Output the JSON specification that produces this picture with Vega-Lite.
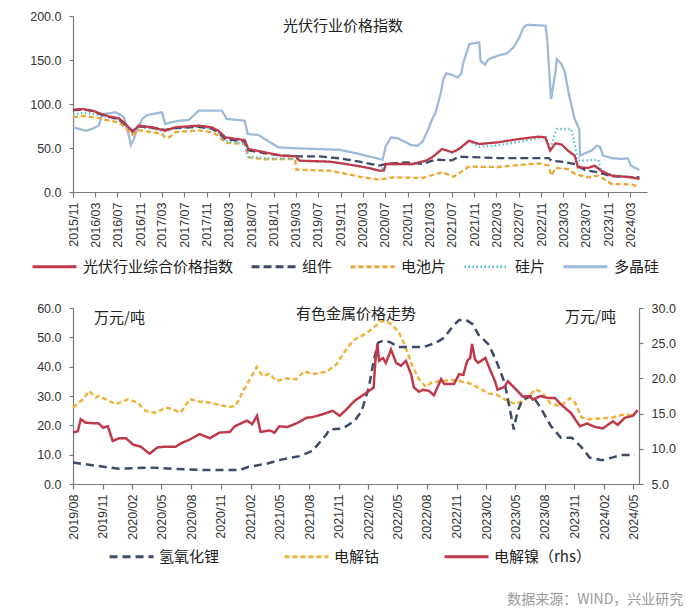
{
  "$schema": "https://vega.github.io/schema/vega-lite/v6.json",
  "padding": {"top": 10, "left": 29, "right": 5, "bottom": 3},
  "title": {"text": "数据来源：WIND，兴业研究", "orient": "bottom", "anchor": "end", "fontSize": 14, "color": "#9a9a9a", "font": "Noto Sans CJK SC", "fontWeight": "normal", "offset": 28, "dx": 8},
  "spacing": 27,
  "datasets": {
    "pv": [
      {"d":"2015-11-01","s":"多晶硅","v":73.5},{"d":"2015-12-15","s":"多晶硅","v":71},{"d":"2016-01-10","s":"多晶硅","v":69.5},{"d":"2016-02-15","s":"多晶硅","v":72},{"d":"2016-03-20","s":"多晶硅","v":75.4},{"d":"2016-04-10","s":"多晶硅","v":88.6},{"d":"2016-06-20","s":"多晶硅","v":90.5},{"d":"2016-07-15","s":"多晶硅","v":88},{"d":"2016-08-05","s":"多晶硅","v":84.9},{"d":"2016-09-01","s":"多晶硅","v":64},{"d":"2016-09-12","s":"多晶硅","v":53.4},{"d":"2016-09-28","s":"多晶硅","v":60},{"d":"2016-10-17","s":"多晶硅","v":71.6},{"d":"2016-11-14","s":"多晶硅","v":83},{"d":"2016-12-10","s":"多晶硅","v":87.5},{"d":"2017-03-01","s":"多晶硅","v":90.5},{"d":"2017-03-18","s":"多晶硅","v":77.3},{"d":"2017-04-24","s":"多晶硅","v":79.2},{"d":"2017-06-01","s":"多晶硅","v":81},{"d":"2017-07-24","s":"多晶硅","v":81.8},{"d":"2017-08-20","s":"多晶硅","v":86.7},{"d":"2017-09-17","s":"多晶硅","v":92.4},{"d":"2018-01-22","s":"多晶硅","v":92.4},{"d":"2018-02-18","s":"多晶硅","v":83},{"d":"2018-04-21","s":"多晶硅","v":81.8},{"d":"2018-05-27","s":"多晶硅","v":81},{"d":"2018-06-12","s":"多晶硅","v":65.9},{"d":"2018-08-09","s":"多晶硅","v":64.8},{"d":"2018-09-15","s":"多晶硅","v":60},{"d":"2018-11-25","s":"多晶硅","v":50.8},{"d":"2019-02-25","s":"多晶硅","v":49.7},{"d":"2019-10-27","s":"多晶硅","v":48},{"d":"2020-02-12","s":"多晶硅","v":43.2},{"d":"2020-04-25","s":"多晶硅","v":39.4},{"d":"2020-06-18","s":"多晶硅","v":36.7},{"d":"2020-07-06","s":"多晶硅","v":52.6},{"d":"2020-08-03","s":"多晶硅","v":62},{"d":"2020-09-09","s":"多晶硅","v":61},{"d":"2020-10-06","s":"多晶硅","v":58.3},{"d":"2020-11-20","s":"多晶硅","v":53.4},{"d":"2020-12-25","s":"多晶硅","v":52.6},{"d":"2021-01-22","s":"多晶硅","v":57.2},{"d":"2021-02-19","s":"多晶硅","v":69.7},{"d":"2021-03-16","s":"多晶硅","v":83},{"d":"2021-04-04","s":"多晶硅","v":90.5},{"d":"2021-05-01","s":"多晶硅","v":112},{"d":"2021-05-15","s":"多晶硅","v":128},{"d":"2021-06-01","s":"多晶硅","v":134.9},{"d":"2021-07-01","s":"多晶硅","v":133.3},{"d":"2021-08-01","s":"多晶硅","v":130.3},{"d":"2021-08-20","s":"多晶硅","v":134},{"d":"2021-09-05","s":"多晶硅","v":149.2},{"d":"2021-10-05","s":"多晶硅","v":168.2},{"d":"2021-11-28","s":"多晶硅","v":170},{"d":"2021-12-05","s":"多晶硅","v":149.2},{"d":"2021-12-28","s":"多晶硅","v":144.7},{"d":"2022-01-18","s":"多晶硅","v":151},{"d":"2022-03-12","s":"多晶硅","v":155},{"d":"2022-04-28","s":"多晶硅","v":157.6},{"d":"2022-06-03","s":"多晶硅","v":164.4},{"d":"2022-07-01","s":"多晶硅","v":173.9},{"d":"2022-07-28","s":"多晶硅","v":187.2},{"d":"2022-08-15","s":"多晶硅","v":190},{"d":"2022-11-25","s":"多晶硅","v":189},{"d":"2022-12-03","s":"多晶硅","v":175.8},{"d":"2022-12-25","s":"多晶硅","v":105.7},{"d":"2023-01-18","s":"多晶硅","v":136},{"d":"2023-01-25","s":"多晶硅","v":151},{"d":"2023-02-20","s":"多晶硅","v":145.5},{"d":"2023-03-10","s":"多晶硅","v":136},{"d":"2023-04-05","s":"多晶硅","v":107.6},{"d":"2023-05-03","s":"多晶硅","v":83},{"d":"2023-05-28","s":"多晶硅","v":71.6},{"d":"2023-06-01","s":"多晶硅","v":41.3},{"d":"2023-06-28","s":"多晶硅","v":44},{"d":"2023-08-03","s":"多晶硅","v":47},{"d":"2023-09-01","s":"多晶硅","v":52.6},{"d":"2023-09-18","s":"多晶硅","v":51.5},{"d":"2023-10-05","s":"多晶硅","v":41.3},{"d":"2023-11-20","s":"多晶硅","v":38.6},{"d":"2024-01-12","s":"多晶硅","v":37.5},{"d":"2024-02-18","s":"多晶硅","v":38.3},{"d":"2024-03-05","s":"多晶硅","v":29.9},{"d":"2024-04-20","s":"多晶硅","v":25},

      {"d":"2015-11-01","s":"电池片","v":85},{"d":"2016-01-05","s":"电池片","v":86.5},{"d":"2016-02-15","s":"电池片","v":85},{"d":"2016-03-21","s":"电池片","v":84},{"d":"2016-05-15","s":"电池片","v":81},{"d":"2016-07-09","s":"电池片","v":79},{"d":"2016-08-15","s":"电池片","v":73},{"d":"2016-09-21","s":"电池片","v":65},{"d":"2016-10-25","s":"电池片","v":70},{"d":"2017-01-07","s":"电池片","v":68},{"d":"2017-03-01","s":"电池片","v":66},{"d":"2017-03-18","s":"电池片","v":62},{"d":"2017-04-10","s":"电池片","v":62},{"d":"2017-05-12","s":"电池片","v":68},{"d":"2017-09-18","s":"电池片","v":70},{"d":"2017-11-28","s":"电池片","v":68},{"d":"2018-01-03","s":"电池片","v":64},{"d":"2018-02-10","s":"电池片","v":56},{"d":"2018-05-27","s":"电池片","v":54.5},{"d":"2018-06-15","s":"电池片","v":39.4},{"d":"2018-09-15","s":"电池片","v":37},{"d":"2018-12-12","s":"电池片","v":37.5},{"d":"2019-02-25","s":"电池片","v":37.5},{"d":"2019-03-05","s":"电池片","v":25.4},{"d":"2019-09-03","s":"电池片","v":24.2},{"d":"2019-12-02","s":"电池片","v":20.5},{"d":"2020-03-01","s":"电池片","v":16.7},{"d":"2020-06-01","s":"电池片","v":14},{"d":"2020-08-10","s":"电池片","v":16.7},{"d":"2021-01-20","s":"电池片","v":15.9},{"d":"2021-05-08","s":"电池片","v":22.4},{"d":"2021-07-12","s":"电池片","v":17.4},{"d":"2021-10-03","s":"电池片","v":28.8},{"d":"2022-03-12","s":"电池片","v":28.4},{"d":"2022-10-18","s":"电池片","v":32.6},{"d":"2022-12-12","s":"电池片","v":30},{"d":"2022-12-25","s":"电池片","v":18.6},{"d":"2023-01-20","s":"电池片","v":27.3},{"d":"2023-03-27","s":"电池片","v":26},{"d":"2023-05-03","s":"电池片","v":20.5},{"d":"2023-07-15","s":"电池片","v":16.7},{"d":"2023-09-09","s":"电池片","v":18.6},{"d":"2023-11-21","s":"电池片","v":9.1},{"d":"2024-03-06","s":"电池片","v":8.7},{"d":"2024-04-21","s":"电池片","v":6},

      {"d":"2015-11-01","s":"硅片","v":88},{"d":"2016-01-05","s":"硅片","v":90},{"d":"2016-02-15","s":"硅片","v":89},{"d":"2016-03-21","s":"硅片","v":87},{"d":"2016-05-15","s":"硅片","v":85},{"d":"2016-07-09","s":"硅片","v":82},{"d":"2016-08-15","s":"硅片","v":75},{"d":"2016-09-21","s":"硅片","v":67},{"d":"2016-10-25","s":"硅片","v":74},{"d":"2017-01-07","s":"硅片","v":72},{"d":"2017-03-18","s":"硅片","v":69},{"d":"2017-05-12","s":"硅片","v":72.5},{"d":"2017-09-18","s":"硅片","v":74},{"d":"2017-11-28","s":"硅片","v":72},{"d":"2018-01-03","s":"硅片","v":67},{"d":"2018-02-10","s":"硅片","v":58},{"d":"2018-05-27","s":"硅片","v":55},{"d":"2018-06-15","s":"硅片","v":40},{"d":"2018-09-15","s":"硅片","v":38.5},{"d":"2018-12-12","s":"硅片","v":38},{"d":"2019-02-25","s":"硅片","v":37.5},{"d":"2019-03-21","s":"硅片","v":35.3},{"d":"2019-09-03","s":"硅片","v":34.2},{"d":"2019-12-02","s":"硅片","v":31.5},{"d":"2020-03-18","s":"硅片","v":27.7},{"d":"2020-06-01","s":"硅片","v":24},{"d":"2020-07-06","s":"硅片","v":31.5},{"d":"2020-11-28","s":"硅片","v":31.5},{"d":"2021-02-10","s":"硅片","v":35.3},{"d":"2021-03-15","s":"硅片","v":39},{"d":"2021-05-09","s":"硅片","v":48.5},{"d":"2021-07-03","s":"硅片","v":44.8},{"d":"2021-08-09","s":"硅片","v":48.5},{"d":"2021-10-03","s":"硅片","v":57},{"d":"2021-11-27","s":"硅片","v":51.5},{"d":"2022-03-12","s":"硅片","v":53},{"d":"2022-07-01","s":"硅片","v":57},{"d":"2022-10-18","s":"硅片","v":61},{"d":"2022-11-24","s":"硅片","v":64},{"d":"2022-12-20","s":"硅片","v":48},{"d":"2023-01-12","s":"硅片","v":64},{"d":"2023-01-25","s":"硅片","v":71.6},{"d":"2023-04-15","s":"硅片","v":71.6},{"d":"2023-05-21","s":"硅片","v":35.6},{"d":"2023-09-09","s":"硅片","v":36.6},{"d":"2023-09-24","s":"硅片","v":24.5},{"d":"2023-11-21","s":"硅片","v":19},{"d":"2024-03-06","s":"硅片","v":17},{"d":"2024-04-21","s":"硅片","v":15},

      {"d":"2015-11-01","s":"组件","v":93},{"d":"2016-01-05","s":"组件","v":93.5},{"d":"2016-02-15","s":"组件","v":92},{"d":"2016-03-21","s":"组件","v":89},{"d":"2016-05-15","s":"组件","v":85.5},{"d":"2016-07-09","s":"组件","v":82.5},{"d":"2016-08-15","s":"组件","v":76},{"d":"2016-09-21","s":"组件","v":69.5},{"d":"2016-10-25","s":"组件","v":74.5},{"d":"2017-01-07","s":"组件","v":73},{"d":"2017-03-18","s":"组件","v":70.5},{"d":"2017-05-12","s":"组件","v":72.5},{"d":"2017-09-18","s":"组件","v":74},{"d":"2017-11-28","s":"组件","v":72},{"d":"2018-01-03","s":"组件","v":68},{"d":"2018-02-10","s":"组件","v":60},{"d":"2018-05-27","s":"组件","v":57.5},{"d":"2018-06-15","s":"组件","v":47.5},{"d":"2018-09-15","s":"组件","v":44},{"d":"2018-12-12","s":"组件","v":41.5},{"d":"2019-03-21","s":"组件","v":40.5},{"d":"2019-06-30","s":"组件","v":40.5},{"d":"2019-10-27","s":"组件","v":38.3},{"d":"2020-02-12","s":"组件","v":34.5},{"d":"2020-06-01","s":"组件","v":29.9},{"d":"2020-07-06","s":"组件","v":32},{"d":"2020-10-24","s":"组件","v":33.7},{"d":"2021-01-22","s":"组件","v":32},{"d":"2021-04-04","s":"组件","v":36.7},{"d":"2021-07-01","s":"组件","v":36},{"d":"2021-08-09","s":"组件","v":40.1},{"d":"2022-03-12","s":"组件","v":38.6},{"d":"2022-12-12","s":"组件","v":38.6},{"d":"2022-12-27","s":"组件","v":35.6},{"d":"2023-03-10","s":"组件","v":34},{"d":"2023-05-03","s":"组件","v":31.8},{"d":"2023-06-27","s":"组件","v":25},{"d":"2023-09-09","s":"组件","v":22.4},{"d":"2023-11-21","s":"组件","v":17.8},{"d":"2024-04-21","s":"组件","v":16.7},

      {"d":"2015-11-01","s":"光伏行业综合价格指数","v":93.5},{"d":"2015-12-21","s":"光伏行业综合价格指数","v":94.3},{"d":"2016-02-15","s":"光伏行业综合价格指数","v":92.4},{"d":"2016-03-21","s":"光伏行业综合价格指数","v":89.8},{"d":"2016-05-15","s":"光伏行业综合价格指数","v":86},{"d":"2016-07-09","s":"光伏行业综合价格指数","v":83.7},{"d":"2016-08-15","s":"光伏行业综合价格指数","v":77.3},{"d":"2016-09-21","s":"光伏行业综合价格指数","v":68.5},{"d":"2016-10-25","s":"光伏行业综合价格指数","v":75.4},{"d":"2017-01-07","s":"光伏行业综合价格指数","v":73.5},{"d":"2017-03-18","s":"光伏行业综合价格指数","v":69.7},{"d":"2017-05-12","s":"光伏行业综合价格指数","v":73.5},{"d":"2017-09-18","s":"光伏行业综合价格指数","v":75.4},{"d":"2017-11-28","s":"光伏行业综合价格指数","v":73.5},{"d":"2018-01-03","s":"光伏行业综合价格指数","v":69.7},{"d":"2018-02-10","s":"光伏行业综合价格指数","v":62.1},{"d":"2018-05-27","s":"光伏行业综合价格指数","v":59},{"d":"2018-06-15","s":"光伏行业综合价格指数","v":48.9},{"d":"2018-09-15","s":"光伏行业综合价格指数","v":45.1},{"d":"2018-12-12","s":"光伏行业综合价格指数","v":41.3},{"d":"2019-03-03","s":"光伏行业综合价格指数","v":40.5},{"d":"2019-03-21","s":"光伏行业综合价格指数","v":35.6},{"d":"2019-09-03","s":"光伏行业综合价格指数","v":34.5},{"d":"2019-12-02","s":"光伏行业综合价格指数","v":31.8},{"d":"2020-03-18","s":"光伏行业综合价格指数","v":28},{"d":"2020-06-01","s":"光伏行业综合价格指数","v":24.2},{"d":"2020-06-25","s":"光伏行业综合价格指数","v":24.5},{"d":"2020-07-06","s":"光伏行业综合价格指数","v":31.8},{"d":"2020-11-28","s":"光伏行业综合价格指数","v":31.8},{"d":"2021-02-10","s":"光伏行业综合价格指数","v":35.6},{"d":"2021-03-15","s":"光伏行业综合价格指数","v":39.4},{"d":"2021-05-09","s":"光伏行业综合价格指数","v":48.9},{"d":"2021-07-03","s":"光伏行业综合价格指数","v":45.1},{"d":"2021-08-09","s":"光伏行业综合价格指数","v":48.9},{"d":"2021-10-03","s":"光伏行业综合价格指数","v":58.3},{"d":"2021-11-27","s":"光伏行业综合价格指数","v":54.5},{"d":"2022-03-12","s":"光伏行业综合价格指数","v":56.5},{"d":"2022-07-01","s":"光伏行业综合价格指数","v":60.2},{"d":"2022-10-18","s":"光伏行业综合价格指数","v":62.9},{"d":"2022-11-24","s":"光伏行业综合价格指数","v":62},{"d":"2022-12-20","s":"光伏行业综合价格指数","v":47},{"d":"2023-01-18","s":"光伏行业综合价格指数","v":55.3},{"d":"2023-02-21","s":"光伏行业综合价格指数","v":54},{"d":"2023-03-27","s":"光伏行业综合价格指数","v":47},{"d":"2023-05-03","s":"光伏行业综合价格指数","v":41.3},{"d":"2023-05-21","s":"光伏行业综合价格指数","v":28},{"d":"2023-07-15","s":"光伏行业综合价格指数","v":27.3},{"d":"2023-08-21","s":"光伏行业综合价格指数","v":29.9},{"d":"2023-09-24","s":"光伏行业综合价格指数","v":24.2},{"d":"2023-11-21","s":"光伏行业综合价格指数","v":18.6},{"d":"2024-03-06","s":"光伏行业综合价格指数","v":16.7},{"d":"2024-04-21","s":"光伏行业综合价格指数","v":14.8}
    ],
    "metal": [
      {"d":"2019-08-01","s":"电解钴","v":26},{"d":"2019-09-01","s":"电解钴","v":28.9},{"d":"2019-09-20","s":"电解钴","v":31.7},{"d":"2019-10-11","s":"电解钴","v":29.4},{"d":"2019-10-20","s":"电解钴","v":30},{"d":"2019-12-12","s":"电解钴","v":27.2},{"d":"2020-01-18","s":"电解钴","v":28.9},{"d":"2020-02-18","s":"电解钴","v":27.7},{"d":"2020-03-13","s":"电解钴","v":24.9},{"d":"2020-04-13","s":"电解钴","v":24.3},{"d":"2020-05-14","s":"电解钴","v":26},{"d":"2020-06-05","s":"电解钴","v":25.5},{"d":"2020-06-29","s":"电解钴","v":24.3},{"d":"2020-07-27","s":"电解钴","v":28.9},{"d":"2020-08-27","s":"电解钴","v":28.1},{"d":"2020-09-28","s":"电解钴","v":27.7},{"d":"2020-10-28","s":"电解钴","v":26.9},{"d":"2020-11-29","s":"电解钴","v":26.3},{"d":"2020-12-17","s":"电解钴","v":26.6},{"d":"2021-01-09","s":"电解钴","v":31.7},{"d":"2021-01-30","s":"电解钴","v":35.7},{"d":"2021-02-20","s":"电解钴","v":39.9},{"d":"2021-03-10","s":"电解钴","v":36.8},{"d":"2021-04-01","s":"电解钴","v":37.6},{"d":"2021-04-22","s":"电解钴","v":35.1},{"d":"2021-05-23","s":"电解钴","v":36},{"d":"2021-06-23","s":"电解钴","v":35.7},{"d":"2021-07-17","s":"电解钴","v":38.5},{"d":"2021-08-12","s":"电解钴","v":37.4},{"d":"2021-09-24","s":"电解钴","v":38.3},{"d":"2021-10-25","s":"电解钴","v":40.8},{"d":"2021-11-10","s":"电解钴","v":43.6},{"d":"2021-11-28","s":"电解钴","v":46.5},{"d":"2021-12-20","s":"电解钴","v":49.3},{"d":"2022-01-20","s":"电解钴","v":51},{"d":"2022-02-17","s":"电解钴","v":53.3},{"d":"2022-03-12","s":"电解钴","v":55.6},{"d":"2022-04-06","s":"电解钴","v":55},{"d":"2022-05-04","s":"电解钴","v":52.2},{"d":"2022-05-19","s":"电解钴","v":48.8},{"d":"2022-06-04","s":"电解钴","v":44.2},{"d":"2022-06-19","s":"电解钴","v":39.7},{"d":"2022-07-08","s":"电解钴","v":35.7},{"d":"2022-07-29","s":"电解钴","v":33.1},{"d":"2022-08-14","s":"电解钴","v":34.5},{"d":"2022-09-14","s":"电解钴","v":35.1},{"d":"2022-10-24","s":"电解钴","v":35.4},{"d":"2022-12-07","s":"电解钴","v":34.5},{"d":"2023-01-17","s":"电解钴","v":32.3},{"d":"2023-02-08","s":"电解钴","v":30.8},{"d":"2023-03-02","s":"电解钴","v":30.6},{"d":"2023-04-09","s":"电解钴","v":28.3},{"d":"2023-05-03","s":"电解钴","v":27.2},{"d":"2023-06-03","s":"电解钴","v":28.9},{"d":"2023-07-04","s":"电解钴","v":32.3},{"d":"2023-07-25","s":"电解钴","v":31.1},{"d":"2023-08-20","s":"电解钴","v":27.2},{"d":"2023-09-20","s":"电解钴","v":26.6},{"d":"2023-10-18","s":"电解钴","v":29.2},{"d":"2023-11-03","s":"电解钴","v":27.7},{"d":"2023-11-24","s":"电解钴","v":22.6},{"d":"2023-12-13","s":"电解钴","v":22.1},{"d":"2024-02-25","s":"电解钴","v":22.6},{"d":"2024-04-05","s":"电解钴","v":23.8},{"d":"2024-05-06","s":"电解钴","v":23.2},

      {"d":"2019-08-01","s":"氢氧化锂","v":7.3},{"d":"2019-10-20","s":"氢氧化锂","v":6.1},{"d":"2019-12-21","s":"氢氧化锂","v":5.2},{"d":"2020-03-25","s":"氢氧化锂","v":5.6},{"d":"2020-06-05","s":"氢氧化锂","v":5.2},{"d":"2020-08-27","s":"氢氧化锂","v":4.8},{"d":"2020-12-30","s":"氢氧化锂","v":4.8},{"d":"2021-01-24","s":"氢氧化锂","v":5.8},{"d":"2021-03-22","s":"氢氧化锂","v":6.9},{"d":"2021-05-10","s":"氢氧化锂","v":8.4},{"d":"2021-07-02","s":"氢氧化锂","v":9.5},{"d":"2021-08-12","s":"氢氧化锂","v":11.3},{"d":"2021-09-24","s":"氢氧化锂","v":16.9},{"d":"2021-10-03","s":"氢氧化锂","v":18.6},{"d":"2021-11-13","s":"氢氧化锂","v":18.9},{"d":"2021-12-20","s":"氢氧化锂","v":21.5},{"d":"2022-01-11","s":"氢氧化锂","v":24.9},{"d":"2022-02-02","s":"氢氧化锂","v":32.8},{"d":"2022-02-17","s":"氢氧化锂","v":41.9},{"d":"2022-03-03","s":"氢氧化锂","v":48.2},{"d":"2022-03-21","s":"氢氧化锂","v":49},{"d":"2022-04-12","s":"氢氧化锂","v":48.2},{"d":"2022-05-04","s":"氢氧化锂","v":46.7},{"d":"2022-07-23","s":"氢氧化锂","v":46.7},{"d":"2022-08-30","s":"氢氧化锂","v":48.2},{"d":"2022-09-24","s":"氢氧化锂","v":49.9},{"d":"2022-10-21","s":"氢氧化锂","v":53.9},{"d":"2022-11-09","s":"氢氧化锂","v":55.9},{"d":"2022-12-01","s":"氢氧化锂","v":55.9},{"d":"2022-12-22","s":"氢氧化锂","v":54.4},{"d":"2023-01-07","s":"氢氧化锂","v":51},{"d":"2023-02-08","s":"氢氧化锂","v":47.6},{"d":"2023-03-02","s":"氢氧化锂","v":42.5},{"d":"2023-03-30","s":"氢氧化锂","v":34.5},{"d":"2023-04-18","s":"氢氧化锂","v":23.8},{"d":"2023-04-27","s":"氢氧化锂","v":18.6},{"d":"2023-05-09","s":"氢氧化锂","v":24.9},{"d":"2023-05-25","s":"氢氧化锂","v":28.9},{"d":"2023-06-25","s":"氢氧化锂","v":30},{"d":"2023-07-19","s":"氢氧化锂","v":26},{"d":"2023-08-20","s":"氢氧化锂","v":19.8},{"d":"2023-09-20","s":"氢氧化锂","v":15.8},{"d":"2023-10-24","s":"氢氧化锂","v":15.8},{"d":"2023-11-24","s":"氢氧化锂","v":12.4},{"d":"2023-12-18","s":"氢氧化锂","v":9},{"d":"2024-01-25","s":"氢氧化锂","v":8.1},{"d":"2024-02-25","s":"氢氧化锂","v":9},{"d":"2024-03-26","s":"氢氧化锂","v":9.9},{"d":"2024-05-06","s":"氢氧化锂","v":9.9},

      {"d":"2019-08-01","s":"电解镍（rhs）","v":12.3},{"d":"2019-08-16","s":"电解镍（rhs）","v":12.5},{"d":"2019-08-25","s":"电解镍（rhs）","v":14.2},{"d":"2019-09-10","s":"电解镍（rhs）","v":13.7},{"d":"2019-10-20","s":"电解镍（rhs）","v":13.6},{"d":"2019-11-02","s":"电解镍（rhs）","v":13},{"d":"2019-11-17","s":"电解镍（rhs）","v":13.2},{"d":"2019-12-02","s":"电解镍（rhs）","v":11.1},{"d":"2019-12-21","s":"电解镍（rhs）","v":11.5},{"d":"2020-01-12","s":"电解镍（rhs）","v":11.5},{"d":"2020-02-03","s":"电解镍（rhs）","v":10.6},{"d":"2020-02-27","s":"电解镍（rhs）","v":10.3},{"d":"2020-03-25","s":"电解镍（rhs）","v":9.3},{"d":"2020-04-19","s":"电解镍（rhs）","v":10.2},{"d":"2020-05-14","s":"电解镍（rhs）","v":10.3},{"d":"2020-06-14","s":"电解镍（rhs）","v":10.3},{"d":"2020-07-06","s":"电解镍（rhs）","v":10.9},{"d":"2020-07-27","s":"电解镍（rhs）","v":11.3},{"d":"2020-08-27","s":"电解镍（rhs）","v":12.1},{"d":"2020-09-28","s":"电解镍（rhs）","v":11.5},{"d":"2020-10-28","s":"电解镍（rhs）","v":12.3},{"d":"2020-11-29","s":"电解镍（rhs）","v":12.4},{"d":"2020-12-14","s":"电解镍（rhs）","v":13.2},{"d":"2021-01-21","s":"电解镍（rhs）","v":14},{"d":"2021-02-06","s":"电解镍（rhs）","v":13.5},{"d":"2021-02-21","s":"电解镍（rhs）","v":14.7},{"d":"2021-03-04","s":"电解镍（rhs）","v":12.4},{"d":"2021-04-01","s":"电解镍（rhs）","v":12.6},{"d":"2021-04-16","s":"电解镍（rhs）","v":12.3},{"d":"2021-05-01","s":"电解镍（rhs）","v":13.2},{"d":"2021-05-26","s":"电解镍（rhs）","v":13.1},{"d":"2021-06-23","s":"电解镍（rhs）","v":13.6},{"d":"2021-07-24","s":"电解镍（rhs）","v":14.4},{"d":"2021-08-12","s":"电解镍（rhs）","v":14.5},{"d":"2021-09-12","s":"电解镍（rhs）","v":14.9},{"d":"2021-10-13","s":"电解镍（rhs）","v":15.4},{"d":"2021-11-04","s":"电解镍（rhs）","v":14.7},{"d":"2021-11-25","s":"电解镍（rhs）","v":15.6},{"d":"2021-12-20","s":"电解镍（rhs）","v":16.8},{"d":"2022-01-11","s":"电解镍（rhs）","v":17.5},{"d":"2022-02-02","s":"电解镍（rhs）","v":18.2},{"d":"2022-02-17","s":"电解镍（rhs）","v":18.7},{"d":"2022-02-23","s":"电解镍（rhs）","v":22.7},{"d":"2022-03-01","s":"电解镍（rhs）","v":24.9},{"d":"2022-03-06","s":"电解镍（rhs）","v":22.5},{"d":"2022-03-18","s":"电解镍（rhs）","v":22.9},{"d":"2022-03-27","s":"电解镍（rhs）","v":22.2},{"d":"2022-04-12","s":"电解镍（rhs）","v":24.1},{"d":"2022-04-28","s":"电解镍（rhs）","v":22.2},{"d":"2022-05-13","s":"电解镍（rhs）","v":21.8},{"d":"2022-05-28","s":"电解镍（rhs）","v":22.5},{"d":"2022-06-13","s":"电解镍（rhs）","v":20.6},{"d":"2022-06-22","s":"电解镍（rhs）","v":18.7},{"d":"2022-07-08","s":"电解镍（rhs）","v":18.1},{"d":"2022-07-20","s":"电解镍（rhs）","v":18.4},{"d":"2022-08-08","s":"电解镍（rhs）","v":18.2},{"d":"2022-08-23","s":"电解镍（rhs）","v":17.6},{"d":"2022-09-14","s":"电解镍（rhs）","v":19.9},{"d":"2022-09-24","s":"电解镍（rhs）","v":19.2},{"d":"2022-10-24","s":"电解镍（rhs）","v":19.2},{"d":"2022-11-09","s":"电解镍（rhs）","v":20.6},{"d":"2022-11-22","s":"电解镍（rhs）","v":20.5},{"d":"2022-12-04","s":"电解镍（rhs）","v":22.5},{"d":"2022-12-13","s":"电解镍（rhs）","v":22.9},{"d":"2022-12-19","s":"电解镍（rhs）","v":24.9},{"d":"2022-12-28","s":"电解镍（rhs）","v":22.7},{"d":"2023-01-07","s":"电解镍（rhs）","v":22.2},{"d":"2023-01-29","s":"电解镍（rhs）","v":22.9},{"d":"2023-02-14","s":"电解镍（rhs）","v":21.1},{"d":"2023-02-28","s":"电解镍（rhs）","v":19.6},{"d":"2023-03-08","s":"电解镍（rhs）","v":18.4},{"d":"2023-03-30","s":"电解镍（rhs）","v":18.8},{"d":"2023-04-09","s":"电解镍（rhs）","v":19.6},{"d":"2023-04-24","s":"电解镍（rhs）","v":18.9},{"d":"2023-05-09","s":"电解镍（rhs）","v":18.2},{"d":"2023-05-25","s":"电解镍（rhs）","v":17.4},{"d":"2023-06-16","s":"电解镍（rhs）","v":17.5},{"d":"2023-06-25","s":"电解镍（rhs）","v":17},{"d":"2023-07-19","s":"电解镍（rhs）","v":17.5},{"d":"2023-08-11","s":"电解镍（rhs）","v":17.2},{"d":"2023-09-02","s":"电解镍（rhs）","v":17.2},{"d":"2023-09-20","s":"电解镍（rhs）","v":16.3},{"d":"2023-10-21","s":"电解镍（rhs）","v":15.1},{"d":"2023-11-18","s":"电解镍（rhs）","v":13.2},{"d":"2023-12-10","s":"电解镍（rhs）","v":13.6},{"d":"2024-01-04","s":"电解镍（rhs）","v":13.1},{"d":"2024-01-28","s":"电解镍（rhs）","v":12.9},{"d":"2024-02-28","s":"电解镍（rhs）","v":13.9},{"d":"2024-03-14","s":"电解镍（rhs）","v":13.4},{"d":"2024-04-05","s":"电解镍（rhs）","v":14.4},{"d":"2024-04-30","s":"电解镍（rhs）","v":14.7},{"d":"2024-05-15","s":"电解镍（rhs）","v":15.5}
    ]
  },
  "vconcat": [
    {
      "width": 574,
      "height": 176,
      "data": {"name": "pv"},
      "title": {"text": "光伏行业价格指数", "frame": "group", "anchor": "middle", "offset": -24, "dx": -17, "fontSize": 15, "font": "Noto Sans CJK SC", "fontWeight": "normal", "color": "#222222"},
      "mark": {"type": "line", "strokeWidth": 2.3},
      "encoding": {
        "x": {"field": "d", "type": "temporal",
          "scale": {"domain": [{"year": 2015, "month": 11, "date": 1}, {"year": 2024, "month": 6, "date": 1}]},
          "axis": {"title": null, "format": "%Y/%m", "labelAngle": -90, "labelAlign": "right", "labelBaseline": "middle", "labelOverlap": false,
            "values": [
              {"year": 2015, "month": 11, "date": 1}, {"year": 2016, "month": 3, "date": 1}, {"year": 2016, "month": 7, "date": 1}, {"year": 2016, "month": 11, "date": 1},
              {"year": 2017, "month": 3, "date": 1}, {"year": 2017, "month": 7, "date": 1}, {"year": 2017, "month": 11, "date": 1},
              {"year": 2018, "month": 3, "date": 1}, {"year": 2018, "month": 7, "date": 1}, {"year": 2018, "month": 11, "date": 1},
              {"year": 2019, "month": 3, "date": 1}, {"year": 2019, "month": 7, "date": 1}, {"year": 2019, "month": 11, "date": 1},
              {"year": 2020, "month": 3, "date": 1}, {"year": 2020, "month": 7, "date": 1}, {"year": 2020, "month": 11, "date": 1},
              {"year": 2021, "month": 3, "date": 1}, {"year": 2021, "month": 7, "date": 1}, {"year": 2021, "month": 11, "date": 1},
              {"year": 2022, "month": 3, "date": 1}, {"year": 2022, "month": 7, "date": 1}, {"year": 2022, "month": 11, "date": 1},
              {"year": 2023, "month": 3, "date": 1}, {"year": 2023, "month": 7, "date": 1}, {"year": 2023, "month": 11, "date": 1},
              {"year": 2024, "month": 3, "date": 1}
            ]}},
        "y": {"field": "v", "type": "quantitative", "scale": {"domain": [0, 200], "nice": false},
          "axis": {"title": null, "values": [0, 50, 100, 150, 200], "format": ".1f"}},
        "color": {"field": "s", "type": "nominal",
          "scale": {"domain": ["光伏行业综合价格指数", "组件", "电池片", "硅片", "多晶硅"], "range": ["#C0394B", "#3D4A68", "#F0A530", "#5BC5CE", "#9DBAD8"]},
          "legend": {"title": null, "orient": "none", "legendX": -42, "legendY": 227, "direction": "horizontal", "symbolType": "stroke", "symbolSize": 1936, "symbolStrokeWidth": 3, "labelFont": "Noto Sans CJK SC", "labelFontSize": 15, "labelColor": "#222222", "labelOffset": 5, "columnPadding": 11, "labelLimit": 400}},
        "strokeDash": {"field": "s", "type": "nominal",
          "scale": {"domain": ["光伏行业综合价格指数", "组件", "电池片", "硅片", "多晶硅"], "range": [[1, 0], [8, 4], [5, 3], [1.5, 2.5], [1, 0]]},
          "legend": {"title": null, "orient": "none", "legendX": -42, "legendY": 227, "direction": "horizontal", "symbolType": "stroke", "symbolSize": 1936, "symbolStrokeWidth": 3, "labelFont": "Noto Sans CJK SC", "labelFontSize": 15, "labelColor": "#222222", "labelOffset": 5, "columnPadding": 11, "labelLimit": 400}}
      }
    },
    {
      "width": 566,
      "height": 176,
      "data": {"name": "metal"},
      "title": {"text": "有色金属价格走势", "frame": "group", "anchor": "middle", "offset": -20, "dx": 0, "fontSize": 15, "font": "Noto Sans CJK SC", "fontWeight": "normal", "color": "#222222"},
      "encoding": {
        "x": {"field": "d", "type": "temporal",
          "scale": {"domain": [{"year": 2019, "month": 8, "date": 1}, {"year": 2024, "month": 5, "date": 19}]},
          "axis": {"title": null, "format": "%Y/%m", "labelAngle": -90, "labelAlign": "right", "labelBaseline": "middle", "labelOverlap": false,
            "values": [
              {"year": 2019, "month": 8, "date": 1}, {"year": 2019, "month": 11, "date": 1},
              {"year": 2020, "month": 2, "date": 1}, {"year": 2020, "month": 5, "date": 1}, {"year": 2020, "month": 8, "date": 1}, {"year": 2020, "month": 11, "date": 1},
              {"year": 2021, "month": 2, "date": 1}, {"year": 2021, "month": 5, "date": 1}, {"year": 2021, "month": 8, "date": 1}, {"year": 2021, "month": 11, "date": 1},
              {"year": 2022, "month": 2, "date": 1}, {"year": 2022, "month": 5, "date": 1}, {"year": 2022, "month": 8, "date": 1}, {"year": 2022, "month": 11, "date": 1},
              {"year": 2023, "month": 2, "date": 1}, {"year": 2023, "month": 5, "date": 1}, {"year": 2023, "month": 8, "date": 1}, {"year": 2023, "month": 11, "date": 1},
              {"year": 2024, "month": 2, "date": 1}, {"year": 2024, "month": 5, "date": 1}
            ]}}
      },
      "layer": [
        {
          "transform": [{"filter": "datum.s !== '电解镍（rhs）'"}],
          "mark": {"type": "line", "strokeWidth": 2.5},
          "encoding": {
            "y": {"field": "v", "type": "quantitative", "scale": {"domain": [0, 60], "nice": false},
              "axis": {"title": "万元/吨", "titleAngle": 0, "titleX": 46, "titleY": 9, "titleAlign": "center", "titleBaseline": "middle", "titleFontSize": 15, "titleFontWeight": "normal", "titleColor": "#222222", "values": [0, 10, 20, 30, 40, 50, 60], "format": ".1f"}},
            "color": {"field": "s", "type": "nominal",
              "scale": {"domain": ["氢氧化锂", "电解钴", "电解镍（rhs）"], "range": ["#3D4A68", "#F2B33D", "#C0394B"]},
              "legend": {"title": null, "orient": "none", "legendX": 35, "legendY": 225, "direction": "horizontal", "symbolType": "stroke", "symbolSize": 1936, "symbolStrokeWidth": 3, "labelFont": "Noto Sans CJK SC", "labelFontSize": 15, "labelColor": "#222222", "labelOffset": 4, "columnPadding": 58, "labelLimit": 400}},
            "strokeDash": {"field": "s", "type": "nominal",
              "scale": {"domain": ["氢氧化锂", "电解钴", "电解镍（rhs）"], "range": [[8, 5], [5, 3], [1, 0]]},
              "legend": {"title": null, "orient": "none", "legendX": 35, "legendY": 225, "direction": "horizontal", "symbolType": "stroke", "symbolSize": 1936, "symbolStrokeWidth": 3, "labelFont": "Noto Sans CJK SC", "labelFontSize": 15, "labelColor": "#222222", "labelOffset": 4, "columnPadding": 58, "labelLimit": 400}}
          }
        },
        {
          "transform": [{"filter": "datum.s === '电解镍（rhs）'"}],
          "mark": {"type": "line", "strokeWidth": 2.5},
          "encoding": {
            "y": {"field": "v", "type": "quantitative", "scale": {"domain": [5, 30], "nice": false, "zero": false},
              "axis": {"orient": "right", "title": "万元/吨", "titleAngle": 0, "titleX": -49, "titleY": 8, "titleAlign": "center", "titleBaseline": "middle", "titleFontSize": 15, "titleFontWeight": "normal", "titleColor": "#222222", "values": [5, 10, 15, 20, 25, 30], "format": ".1f"}},
            "color": {"field": "s", "type": "nominal",
              "scale": {"domain": ["氢氧化锂", "电解钴", "电解镍（rhs）"], "range": ["#3D4A68", "#F2B33D", "#C0394B"]}},
            "strokeDash": {"field": "s", "type": "nominal",
              "scale": {"domain": ["氢氧化锂", "电解钴", "电解镍（rhs）"], "range": [[8, 5], [5, 3], [1, 0]]}}
          }
        }
      ],
      "resolve": {"scale": {"y": "independent"}}
    }
  ],
  "resolve": {"scale": {"color": "independent", "strokeDash": "independent", "x": "independent"}, "legend": {"color": "independent", "strokeDash": "independent"}},
  "config": {
    "view": {"stroke": null},
    "axis": {"labelFont": "Liberation Sans", "labelFontSize": 12.5, "labelColor": "#333333", "domainColor": "#7a7a7a", "tickColor": "#7a7a7a", "domainWidth": 1.2, "tickWidth": 1.2, "tickSize": 4, "grid": false, "titleFont": "Noto Sans CJK SC"},
    "axisY": {"labelPadding": 8},
    "axisX": {"labelPadding": 5, "tickSize": 5, "labelOverlap": false}
  }
}
